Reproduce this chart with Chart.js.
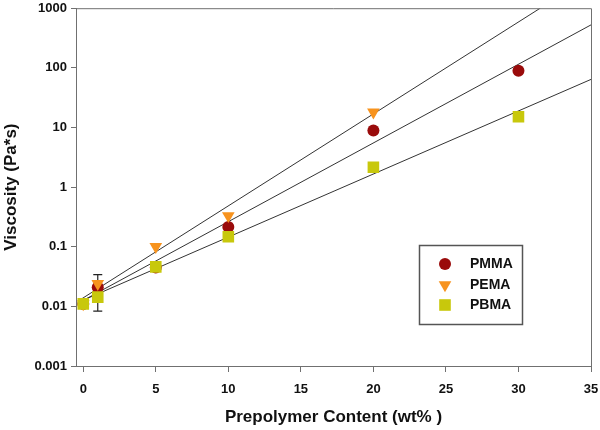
<!DOCTYPE html>
<html>
<head>
<meta charset="utf-8">
<script src="https://cdn.jsdelivr.net/npm/chart.js@4.4.1/dist/chart.umd.min.js"></script>
<style>
  html, body { margin: 0; padding: 0; background: #fff; }
  #wrap { width: 600px; height: 430px; }
</style>
</head>
<body>
<div id="wrap"><canvas id="myChart" width="600" height="430"></canvas></div>
<script>
// prepolymer content (wt%)
const contents = [0, 1, 5, 10, 20, 30];
// viscosity (Pa*s)
const pmma = [0.011, 0.021, 0.045, 0.215, 8.9, 89];
const pema = [0.011, 0.024, 0.1, 0.33, 18, null];
const pbma = [0.011, 0.0143, 0.046, 0.147, 2.15, 15.1];
// the one error bar, on PMMA at 1 wt%
const pmmaErrX = [1];
const pmmaErrLow = [0.0083];
const pmmaErrHigh = [0.034];

// exponential fit lines (end points)
const pmmaFitX = [-0.3, 35];
const pmmaFitY = [0.0115, 525];
const pemaFitX = [-0.3, 31.5];
const pemaFitY = [0.0125, 1000];
const pbmaFitX = [-0.3, 35];
const pbmaFitY = [0.0118, 64];

const xTicks = [0, 5, 10, 15, 20, 25, 30, 35];
const yTicks = [0.001, 0.01, 0.1, 1, 10, 100, 1000];
const yLabels = ['0.001', '0.01', '0.1', '1', '10', '100', '1000'];

const seriesNames = ['PMMA', 'PEMA', 'PBMA'];

const FONT = 'Liberation Sans, Arial, sans-serif';
const AXIS = '#707070';
const C_PMMA = '#9a0b0b';
const C_PEMA = '#f7931e';
const C_PBMA = '#c8c80c';

function pts(xs, ys) {
  const out = [];
  xs.forEach((x, i) => { if (ys[i] != null) out.push({x: x, y: ys[i]}); });
  return out;
}

function fitLine(xs, ys) {
  return {
    data: pts(xs, ys),
    showLine: true,
    borderColor: '#333333',
    borderWidth: 1,
    pointRadius: 0,
    order: 10
  };
}

const markers = [
  {pointStyle: 'circle', radius: 6, rotation: 0, color: C_PMMA},
  {pointStyle: 'triangle', radius: 7.3, rotation: 180, color: C_PEMA},
  {pointStyle: 'rect', radius: 8.2, rotation: 0, color: C_PBMA}
];

// error bars go behind the markers
const errorBars = {
  id: 'errorBars',
  beforeDatasetsDraw(chart) {
    const ctx = chart.ctx, xs = chart.scales.x, ys = chart.scales.y;
    ctx.save();
    ctx.strokeStyle = '#222';
    ctx.lineWidth = 1.2;
    pmmaErrX.forEach((x, i) => {
      const px = xs.getPixelForValue(x);
      const top = ys.getPixelForValue(pmmaErrHigh[i]);
      const bot = ys.getPixelForValue(pmmaErrLow[i]);
      ctx.beginPath();
      ctx.moveTo(px, top); ctx.lineTo(px, bot);
      ctx.moveTo(px - 4.5, top); ctx.lineTo(px + 4.5, top);
      ctx.moveTo(px - 4.5, bot); ctx.lineTo(px + 4.5, bot);
      ctx.stroke();
    });
    ctx.restore();
  }
};

// top/right frame and the boxed legend
const frameAndLegend = {
  id: 'frameAndLegend',
  afterDraw(chart) {
    const ctx = chart.ctx, a = chart.chartArea;
    ctx.save();
    ctx.strokeStyle = AXIS;
    ctx.lineWidth = 1;
    ctx.beginPath();
    ctx.moveTo(a.left, a.top + 0.5); ctx.lineTo(a.right + 0.5, a.top + 0.5);
    ctx.lineTo(a.right + 0.5, a.bottom);
    ctx.stroke();

    ctx.strokeStyle = '#555';
    ctx.lineWidth = 1.5;
    ctx.strokeRect(419.5, 245.5, 103, 79);
    ctx.font = 'bold 14px ' + FONT;
    ctx.textBaseline = 'middle';
    const rows = [264, 285, 305];
    seriesNames.forEach((name, i) => {
      const m = markers[i];
      ctx.fillStyle = m.color;
      Chart.helpers.drawPoint(ctx, {pointStyle: m.pointStyle, radius: m.radius, rotation: m.rotation, borderWidth: 0}, 445, rows[i]);
      ctx.fillStyle = '#111';
      ctx.fillText(name, 470, rows[i]);
    });
    ctx.restore();
  }
};

const ctx = document.getElementById('myChart').getContext('2d');
new Chart(ctx, {
  type: 'scatter',
  data: {
    datasets: [
      fitLine(pemaFitX, pemaFitY),
      fitLine(pmmaFitX, pmmaFitY),
      fitLine(pbmaFitX, pbmaFitY),
      {
        label: seriesNames[0], data: pts(contents, pmma),
        pointStyle: 'circle', pointRadius: markers[0].radius, pointBackgroundColor: C_PMMA,
        pointBorderWidth: 0, order: 3
      },
      {
        label: seriesNames[1], data: pts(contents, pema),
        pointStyle: 'triangle', pointRadius: markers[1].radius, pointRotation: 180,
        pointBackgroundColor: C_PEMA, pointBorderWidth: 0, order: 2
      },
      {
        label: seriesNames[2], data: pts(contents, pbma),
        pointStyle: 'rect', pointRadius: markers[2].radius, pointBackgroundColor: C_PBMA,
        pointBorderWidth: 0, order: 1
      }
    ]
  },
  options: {
    responsive: false,
    animation: false,
    layout: { padding: { top: 5, right: 9, left: 0, bottom: 0 } },
    plugins: { legend: { display: false }, tooltip: { enabled: false } },
    scales: {
      x: {
        type: 'linear', min: -0.5, max: 35,
        afterBuildTicks: s => { s.ticks = xTicks.map(v => ({value: v})); },
        afterFit: s => { s.height = 64; s.paddingLeft = 0; s.paddingRight = 0; },
        ticks: {
          font: {family: FONT, size: 13, weight: 'bold'}, color: '#111',
          padding: 10, callback: v => String(v)
        },
        grid: { drawOnChartArea: false, tickLength: 6, color: AXIS },
        border: { color: AXIS, width: 1 },
        title: {
          display: true, text: 'Prepolymer Content (wt% )', color: '#111',
          font: {family: FONT, size: 17, weight: 'bold'}, padding: {top: 0, bottom: 2}
        }
      },
      y: {
        type: 'logarithmic', min: 0.001, max: 1000,
        afterBuildTicks: s => { s.ticks = yTicks.map(v => ({value: v})); },
        afterFit: s => { s.width = 76; s.paddingTop = 0; s.paddingBottom = 0; },
        ticks: {
          font: {family: FONT, size: 13, weight: 'bold'}, color: '#111',
          padding: 4, callback: (v, i) => yLabels[i]
        },
        grid: { drawOnChartArea: false, tickLength: 5, color: AXIS },
        border: { color: AXIS, width: 1 },
        title: {
          display: true, text: 'Viscosity (Pa*s)', color: '#111',
          font: {family: FONT, size: 17, weight: 'bold'}, padding: {top: 1, bottom: 0}
        }
      }
    }
  },
  plugins: [errorBars, frameAndLegend]
});
</script>
</body>
</html>
